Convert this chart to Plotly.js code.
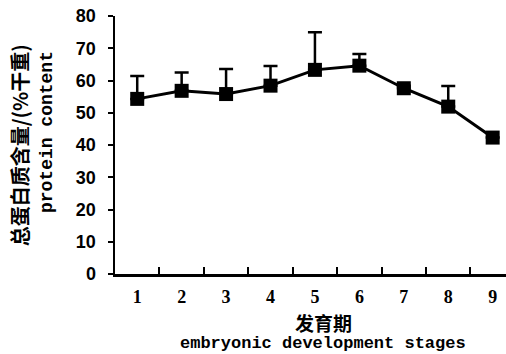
<!DOCTYPE html>
<html>
<head>
<meta charset="utf-8">
<script src="https://cdn.plot.ly/plotly-3.0.1.min.js"></script>
<style>html,body{margin:0;padding:0;background:#fff;}</style>
</head>
<body>
<div id="chart" style="width:506px;height:354px;"></div>
<script>
var stages = ["1","2","3","4","5","6","7","8","9"];
var protein = [54.3, 56.8, 55.8, 58.4, 63.3, 64.6, 57.6, 51.9, 42.3];
var errUp = [7.1, 5.7, 7.8, 6.1, 11.7, 3.6, 0.8, 6.4, 0];
var yTicks = [0,10,20,30,40,50,60,70,80];

var trace = {
  x: stages, y: protein, type: 'scatter', mode: 'lines+markers',
  line: {color: '#000', width: 3},
  marker: {symbol: 'square', size: 14, color: '#000'},
  error_y: {type: 'data', symmetric: false, array: errUp,
            arrayminus: errUp.map(function(){return 0;}),
            color: '#000', thickness: 2.5, width: 7},
  showlegend: false
};

var layout = {
  width: 506, height: 354,
  margin: {l: 115, r: 0, t: 16, b: 80},
  paper_bgcolor: '#fff', plot_bgcolor: '#fff',
  xaxis: {
    type: 'category', range: [-0.5, 8.3], tickson: 'boundaries',
    showgrid: false, zeroline: false, showline: true, linecolor: '#000', linewidth: 2.5,
    ticks: 'inside', ticklen: 7, tickwidth: 2, tickcolor: '#000',
    ticklabelstandoff: 5,
    tickfont: {family: 'Liberation Serif, serif', size: 18, color: '#000', weight: 'bold'}
  },
  yaxis: {
    range: [0, 80], tickvals: yTicks, ticktext: yTicks.map(String),
    showgrid: false, zeroline: false, showline: true, linecolor: '#000', linewidth: 2.5,
    ticks: 'outside', ticklen: 5, tickwidth: 2, tickcolor: '#000',
    ticklabelstandoff: 8,
    tickfont: {family: 'Liberation Sans, Arial, sans-serif', size: 18, color: '#000', weight: 'bold'}
  },
  annotations: [
    {text: '总蛋白质含量/(%干重)', xref: 'paper', yref: 'paper', x: -0.245, y: 0.5,
     xanchor: 'center', yanchor: 'middle', textangle: -90, showarrow: false,
     font: {family: 'Noto Sans CJK SC', size: 20, color: '#000', weight: 'bold'}},
    {text: 'protein content', xref: 'paper', yref: 'paper', x: -0.174, y: 0.55,
     xanchor: 'center', yanchor: 'middle', textangle: -90, showarrow: false,
     font: {family: 'Liberation Mono, monospace', size: 18, color: '#000', weight: 'bold'}},
    {text: '发育期', xref: 'paper', yref: 'paper', x: 0.532, y: -0.187,
     xanchor: 'center', yanchor: 'middle', showarrow: false,
     font: {family: 'Noto Sans CJK SC', size: 19, color: '#000', weight: 'bold'}},
    {text: 'embryonic development stages', xref: 'paper', yref: 'paper', x: 0.532, y: -0.27,
     xanchor: 'center', yanchor: 'middle', showarrow: false,
     font: {family: 'Liberation Mono, monospace', size: 17, color: '#000', weight: 'bold'}}
  ]
};

Plotly.newPlot('chart', [trace], layout, {displayModeBar: false, staticPlot: true});
</script>
</body>
</html>
